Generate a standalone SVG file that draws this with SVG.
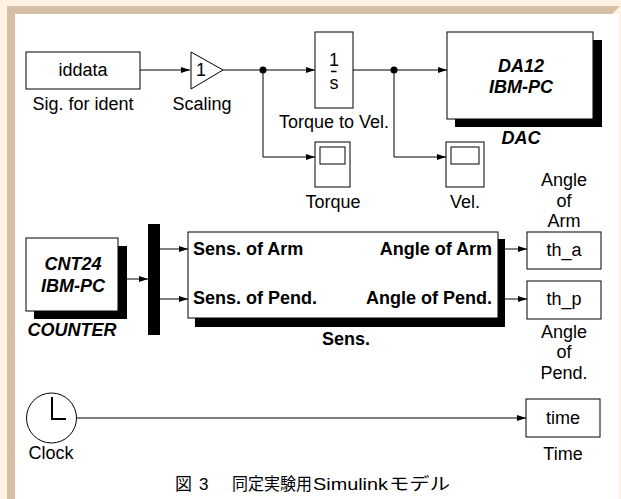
<svg xmlns="http://www.w3.org/2000/svg" width="621" height="499" viewBox="0 0 621 499">
<defs>
<marker id="ah" markerUnits="userSpaceOnUse" markerWidth="9" markerHeight="6" refX="9" refY="3" orient="auto">
<path d="M0,0 L9,3 L0,6 Z" fill="#000"/>
</marker>
<style>
.blk{fill:#fff;stroke:#000;stroke-width:1}
.sh{fill:#000}
.t{font-family:"Liberation Sans",Arial,sans-serif;font-size:18px;fill:#000}
.m{text-anchor:middle}
.b{font-weight:bold}
.bi{font-weight:bold;font-style:italic}
.ln{fill:none;stroke:#000;stroke-width:1}
.ar{fill:none;stroke:#000;stroke-width:1;marker-end:url(#ah)}
</style>
</defs>
<rect x="0" y="0" width="621" height="499" fill="#fef2e2"/>
<rect x="15" y="14" width="604" height="485" fill="#fff"/>
<polygon points="7,6 620,6 612,14 15,14 15,499 7,499" fill="#d5bfa5"/>

<g id="connectors">
<path class="ar" d="M140,70 H190"/>
<path class="ar" d="M223,70 H315"/>
<path class="ar" d="M263,70 V157 H315"/>
<path class="ar" d="M353,70 H447"/>
<path class="ar" d="M394,70 V157 H446"/>
<path class="ar" d="M127,279 H148"/>
<path class="ar" d="M160,249 H188"/>
<path class="ar" d="M160,299 H188"/>
<path class="ar" d="M505,249 H527"/>
<path class="ar" d="M505,299 H527"/>
<path class="ar" d="M77,418 H526"/>
<circle cx="263" cy="70" r="3.5" fill="#000"/>
<circle cx="394" cy="70" r="3.5" fill="#000"/>
</g>

<g id="iddata">
<rect class="blk" x="26" y="52" width="114" height="37"/>
<text class="t m" x="83" y="76">iddata</text>
<text class="t m" x="83" y="110">Sig. for ident</text>
</g>

<g id="scaling">
<polygon class="blk" points="191,52 223,70 191,89"/>
<text class="t m" x="201" y="76">1</text>
<text class="t m" x="202" y="110">Scaling</text>
</g>

<g id="integrator">
<rect class="blk" x="315" y="32" width="38" height="76"/>
<text class="t m" x="334" y="66">1</text>
<line x1="331" y1="71.5" x2="336.5" y2="71.5" stroke="#000" stroke-width="1.5"/>
<text class="t m" x="334" y="89">s</text>
<text class="t m" x="334" y="128">Torque to Vel.</text>
</g>

<g id="dac">
<rect class="sh" x="455" y="40" width="147" height="87"/>
<rect class="blk" x="447" y="32" width="146" height="87"/>
<text class="t m bi" x="521" y="72">DA12</text>
<text class="t m bi" x="521" y="93">IBM-PC</text>
<text class="t m bi" x="521" y="144">DAC</text>
</g>

<g id="torque-scope">
<rect class="blk" x="315" y="142" width="35" height="45"/>
<rect class="blk" x="320" y="147" width="25" height="17"/>
<text class="t m" x="333" y="208">Torque</text>
</g>

<g id="vel-scope">
<rect class="blk" x="446" y="142" width="38" height="45"/>
<rect class="blk" x="451" y="147" width="28" height="17"/>
<text class="t m" x="465" y="208">Vel.</text>
</g>

<g id="counter">
<rect class="sh" x="34" y="246" width="93" height="73"/>
<rect class="blk" x="26" y="238" width="92" height="73"/>
<text class="t m bi" x="73" y="270">CNT24</text>
<text class="t m bi" x="73" y="292">IBM-PC</text>
<text class="t m bi" x="72" y="336">COUNTER</text>
</g>

<g id="demux">
<rect x="148" y="224" width="12" height="111" fill="#000"/>
</g>

<g id="sens">
<rect class="sh" x="195" y="239" width="310" height="88"/>
<rect class="blk" x="188" y="232" width="310" height="86"/>
<text class="t b" x="193" y="255">Sens. of Arm</text>
<text class="t b" x="193" y="304">Sens. of Pend.</text>
<text class="t b" x="492" y="255" text-anchor="end">Angle of Arm</text>
<text class="t b" x="492" y="304" text-anchor="end">Angle of Pend.</text>
<text class="t m b" x="346" y="345">Sens.</text>
</g>

<g id="th_a">
<text class="t m" x="564" y="186">Angle</text>
<text class="t m" x="564" y="207">of</text>
<text class="t m" x="564" y="227">Arm</text>
<rect class="blk" x="527" y="232" width="74" height="37"/>
<text class="t m" x="564" y="256">th_a</text>
</g>

<g id="th_p">
<rect class="blk" x="527" y="281" width="74" height="38"/>
<text class="t m" x="564" y="305">th_p</text>
<text class="t m" x="564" y="338">Angle</text>
<text class="t m" x="564" y="358">of</text>
<text class="t m" x="564" y="379">Pend.</text>
</g>

<g id="clock">
<circle class="blk" cx="51.5" cy="418" r="25"/>
<path d="M52,397 V419 H66" fill="none" stroke="#000" stroke-width="2"/>
<text class="t m" x="51" y="459">Clock</text>
</g>

<g id="time">
<rect class="blk" x="526" y="399" width="74" height="38"/>
<text class="t m" x="563" y="424">time</text>
<text class="t m" x="563" y="460">Time</text>
</g>

<text x="173" y="490" style="font-family:'Liberation Sans','Noto Sans CJK JP',sans-serif;font-size:17px;fill:#000"><tspan x="175">図</tspan><tspan x="199">3</tspan><tspan x="232" textLength="80" lengthAdjust="spacingAndGlyphs">同定実験用</tspan><tspan x="313" textLength="75" lengthAdjust="spacingAndGlyphs">Simulink</tspan><tspan x="389" textLength="61" lengthAdjust="spacingAndGlyphs">モデル</tspan></text>
</svg>
